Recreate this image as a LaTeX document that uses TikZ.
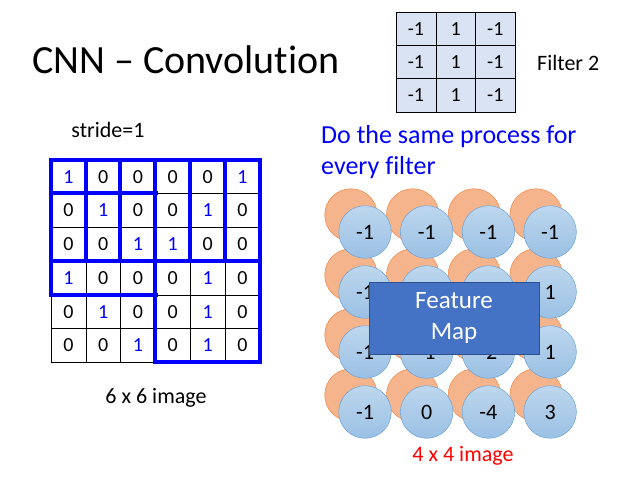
\documentclass[tikz,border=0pt]{standalone}
\usepackage{fontspec}
\setmainfont[Ligatures=NoCommon]{Carlito}
\usepackage{tikz}
\usetikzlibrary{positioning}
\definecolor{AzulUno}{RGB}{0,0,255}
\definecolor{Naranja}{RGB}{245,180,140}
\definecolor{NaranjaBorde}{RGB}{237,125,49}
\definecolor{CelesteClaro}{RGB}{189,215,238}
\definecolor{Celeste}{RGB}{155,192,228}
\definecolor{CelesteBorde}{RGB}{91,155,213}
\definecolor{FiltroFondo}{RGB}{218,227,243}
\definecolor{Mapa}{RGB}{68,114,196}
\definecolor{MapaBorde}{RGB}{47,82,143}

\begin{document}
\begin{tikzpicture}[x=1pt, y=-1pt,
        pixel/.style={draw=black, thin, minimum width=34.8pt, minimum height=33.7pt, inner sep=0pt, font=\fontsize{20}{20}\selectfont},
        filtro/.style={draw=black, thin, fill=FiltroFondo, minimum width=39.7pt, minimum height=33.3pt, inner sep=0pt, font=\fontsize{20}{20}\selectfont},
        ventana/.style={draw=AzulUno, line width=4pt, line cap=rect},
        previo/.style={circle, draw=NaranjaBorde, fill=Naranja, minimum size=52.6pt, inner sep=0pt},
        valor/.style={circle, draw=CelesteBorde, top color=CelesteClaro, bottom color=Celeste, minimum size=52.6pt, inner sep=0pt, font=\fontsize{22}{22}\selectfont}
    ]
        % Marco fijo (620 x 476)
        \useasboundingbox (0,0) rectangle (620,476);

        % Titulo
        \node[anchor=west, font=\fontsize{40}{40}\selectfont, inner sep=0pt] (titulo) at (32,60) {CNN -- Convolution};

        % Filtro 2
        \foreach \fila/\a/\b/\c in {0/-1/1/-1, 1/-1/1/-1, 2/-1/1/-1} {
            \node[filtro] (f-\fila-0) at (415.9, 28.7+33.3*\fila) {\a};
            \node[filtro] (f-\fila-1) at (455.6, 28.7+33.3*\fila) {\b};
            \node[filtro] (f-\fila-2) at (495.3, 28.7+33.3*\fila) {\c};
        }
        \node[anchor=west, inner sep=0pt, font=\fontsize{22}{22}\selectfont] (nombre) at (537,63) {Filter 2};

        \node[font=\fontsize{22}{22}\selectfont] (paso) at (108,130) {stride=1};

        % Imagen 6 x 6 (los 1 en azul)
        \foreach \fila/\valores in {0/{1,0,0,0,0,1}, 1/{0,1,0,0,1,0}, 2/{0,0,1,1,0,0},
                                    3/{1,0,0,0,1,0}, 4/{0,1,0,0,1,0}, 5/{0,0,1,0,1,0}} {
            \foreach \v [count=\col from 0] in \valores {
                \ifnum\v=1
                    \node[pixel, text=AzulUno] (c-\fila-\col) at (68.4+34.8*\col, 176.8+33.7*\fila) {\v};
                \else
                    \node[pixel] (c-\fila-\col) at (68.4+34.8*\col, 176.8+33.7*\fila) {\v};
                \fi
            }
        }

        % Recorrido de la ventana 3 x 3
        \draw[ventana] (c-0-0.north west) -- (c-0-5.north east) -- (c-5-5.south east) -- (c-5-3.south west) -- (c-0-3.north west);
        \draw[ventana] (c-0-0.north west) -- (c-3-0.south west) -- (c-3-2.south east);
        \draw[ventana] (c-1-0.north west) -- (c-1-2.north east);
        \draw[ventana] (c-3-0.north west) -- (c-3-5.north east);
        \foreach \col in {1,2,4,5} {
            \draw[ventana] (c-0-\col.north west) -- (c-2-\col.south west);
        }

        \node[font=\fontsize{22}{22}\selectfont] (tam) at (156,398) {6 x 6 image};

        % Texto azul
        \node[anchor=west, align=left, inner sep=0pt, text=AzulUno, font=\fontsize{26}{31}\selectfont] (proceso) at (321,152) {Do the same process for\\every filter};

        % Feature map: circulos naranja (filtro 1) y azules (filtro 2)
        \foreach \fila in {0,...,3} {
            \foreach \col in {0,...,3} {
                \node[previo] (o-\fila-\col) at (351+61.7*\col, 215+60*\fila) {};
            }
        }
        \foreach \fila/\valores in {0/{-1,-1,-1,-1}, 1/{-1,{},{},1}, 2/{-1,-1,-2,1}, 3/{-1,0,-4,3}} {
            \foreach \v [count=\col from 0] in \valores {
                \node[valor] (m-\fila-\col) at (365+61.7*\col, 232+60*\fila) {\v};
            }
        }

        \node[draw=MapaBorde, fill=Mapa, text=white, align=center, minimum width=170pt, minimum height=72pt, font=\fontsize{25}{31}\selectfont] (mapa) at (454,318) {Feature\\Map};

        \node[text=red, font=\fontsize{22}{22}\selectfont] (tam2) at (463,456) {4 x 4 image};
    \end{tikzpicture}
\end{document}
